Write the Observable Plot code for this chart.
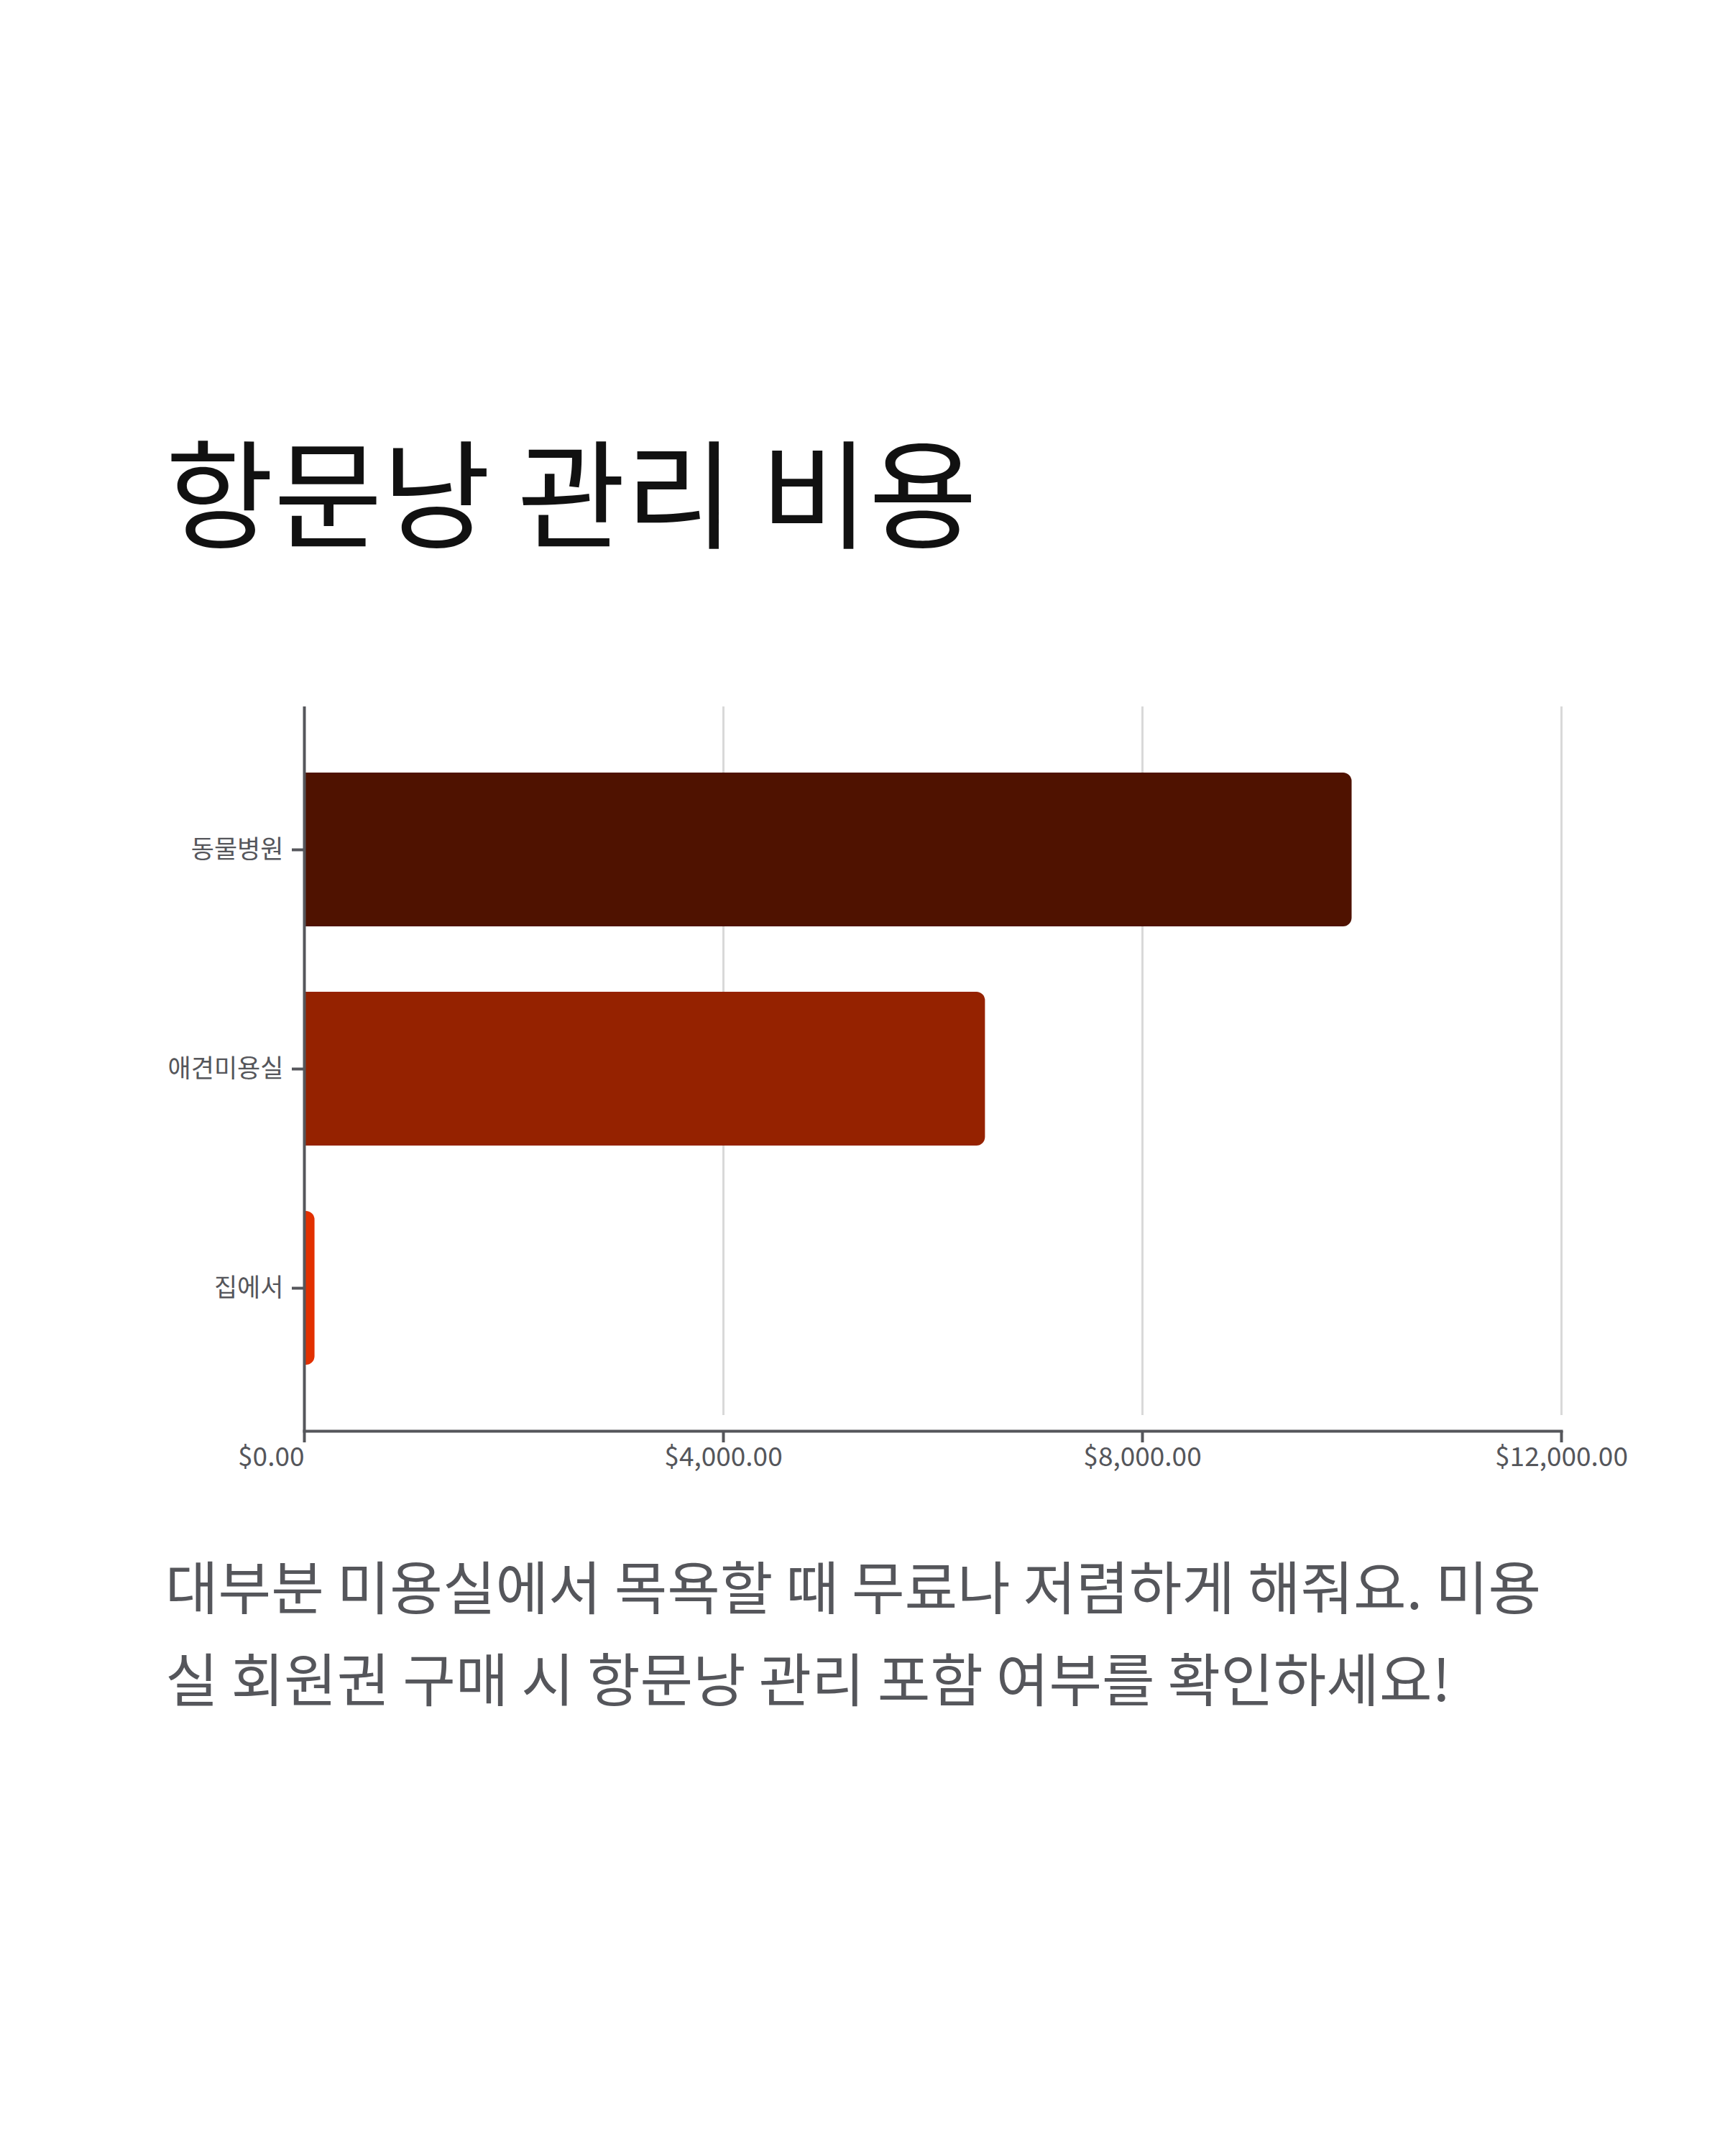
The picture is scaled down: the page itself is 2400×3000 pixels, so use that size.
<!DOCTYPE html>
<html>
<head>
<meta charset="utf-8">
<script src="https://cdn.jsdelivr.net/npm/d3@7"></script>
<script src="https://cdn.jsdelivr.net/npm/@observablehq/plot@0.6"></script>
<style>
  html, body { margin: 0; padding: 0; background: #fff; }
  #page { position: relative; width: 2400px; height: 3000px; background: #fff; font-family: "Noto Sans CJK KR", "Noto Sans", sans-serif; }
  #title { position: absolute; left: 230px; top: 597px; font-size: 164px; line-height: 1; font-weight: 400; color: #111; white-space: nowrap; margin: 0; }
  #chart { position: absolute; left: 0; top: 900px; }
  #caption { position: absolute; left: 230px; top: 2140px; font-size: 80px; line-height: 128px; color: #55565b; font-weight: 400; white-space: nowrap; margin: 0; }
</style>
</head>
<body>
<div id="page">
  <h1 id="title">항문낭 관리 비용</h1>
  <div id="chart"></div>
  <p id="caption">대부분 미용실에서 목욕할 때 무료나 저렴하게 해줘요. 미용<br>실 회원권 구매 시 항문낭 관리 포함 여부를 확인하세요!</p>
</div>
<script>
const categories = ["동물병원", "애견미용실", "집에서"];
const costs = [10000, 6500, 100];
const barColors = ["#4f1200", "#952200", "#e23000"];
const firstTick = [0];
const otherTicks = [4000, 8000, 12000];
const gridTicks = [4000, 8000, 12000];

const rows = categories.map((c, i) => ({name: c, cost: costs[i], color: barColors[i]}));
const axisColor = "#55565b";
const fmt = d3.format("$,.2f");

const chart = Plot.plot({
  width: 2400,
  height: 1200,
  marginTop: 83,
  marginBottom: 109,
  marginLeft: 423,
  marginRight: 228,
  style: {fontFamily: '"Noto Sans CJK KR", "Noto Sans", sans-serif', background: "#fff"},
  x: {domain: [0, 12000]},
  y: {domain: categories, padding: 0.3},
  color: {type: "identity"},
  marks: [
    Plot.gridX(gridTicks, {stroke: "#d9d9d9", strokeOpacity: 1, strokeWidth: 3, insetBottom: 22}),
    Plot.barX(rows, {x: "cost", y: "name", fill: "color", rx2: 12}),
    Plot.ruleX([0], {stroke: axisColor, strokeWidth: 4}),
    Plot.frame({anchor: "bottom", stroke: axisColor, strokeWidth: 4}),
    Plot.axisX({ticks: firstTick, tickFormat: fmt, tickSize: 16, tickPadding: 6, fontSize: 37, color: axisColor, strokeWidth: 4, textAnchor: "end", label: null}),
    Plot.axisX({ticks: otherTicks, tickFormat: fmt, tickSize: 16, tickPadding: 6, fontSize: 37, color: axisColor, strokeWidth: 4, label: null}),
    Plot.axisY({tickSize: 17, tickPadding: 12, fontSize: 35, color: axisColor, strokeWidth: 4, label: null})
  ]
});
document.getElementById("chart").appendChild(chart);
</script>
</body>
</html>
